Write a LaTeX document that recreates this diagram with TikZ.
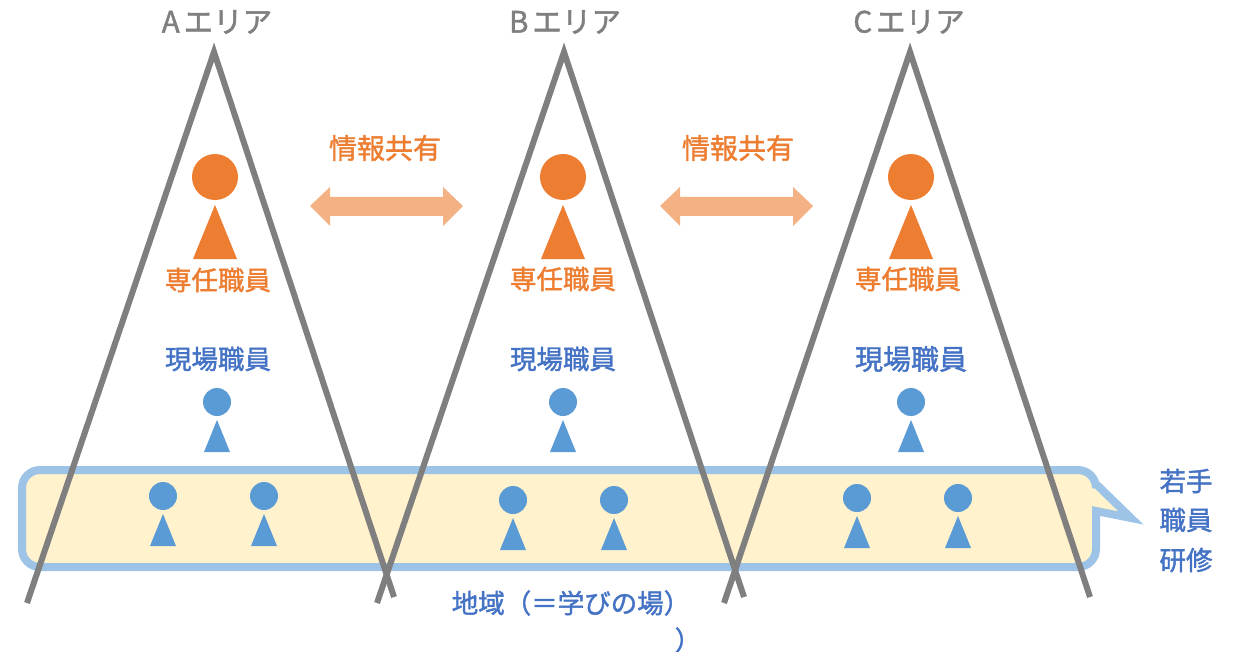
\documentclass[tikz,border=0pt]{standalone}
\usepackage{fontspec}
\setmainfont{Noto Sans CJK JP}[FakeBold=1.5]
\definecolor{areagray}{HTML}{7F7F7F}
\definecolor{lead}{HTML}{ED7D31}
\definecolor{leadarrow}{HTML}{F4B183}
\definecolor{staff}{HTML}{5B9BD5}
\definecolor{staffText}{HTML}{4472C4}
\definecolor{bandfill}{HTML}{FFF2CC}
\definecolor{bandline}{HTML}{9DC3E6}
\tikzset{
  x=1pt,y=-1pt,
  mountain/.style={draw=areagray,line width=6pt,miter limit=10},
  lbl/.style={inner sep=0pt,font=\fontsize{26.5}{26}\selectfont},
  leadlbl/.style={lbl,text=lead},
  stafflbl/.style={lbl,text=staffText},
  arealbl/.style={lbl,text=areagray,font=\fontsize{29.5}{29}\selectfont},
  exchange/.style={fill=leadarrow},
  pics/bighead/.style={code={
    \fill[lead] (0,0) circle[radius=23pt];
    \fill[lead] (0,28) -- (22,82) -- (-22,82) -- cycle;
  }},
  pics/smallhead/.style={code={
    \fill[staff] (0,0) circle[radius=14pt];
    \fill[staff] (0,18) -- (13,50) -- (-13,50) -- cycle;
  }},
}
\begin{document}
\begin{tikzpicture}
\useasboundingbox (0,0) rectangle (1238,652);
% band
\draw[draw=bandline,fill=bandfill,line width=8pt,miter limit=12]
  (40,470) -- (1078,470) arc[start angle=90,end angle=0,radius=18pt]
  -- (1096,484) -- (1131,518) -- (1096,511) -- (1096,549)
  arc[start angle=0,end angle=-90,radius=18pt] -- (40,567)
  arc[start angle=-90,end angle=-180,radius=18pt] -- (22,488)
  arc[start angle=180,end angle=90,radius=18pt] -- cycle;
% people
\pic at (215,177) {bighead};
\pic at (563,177) {bighead};
\pic at (911,177) {bighead};
\pic at (217,402) {smallhead};
\pic at (563,402) {smallhead};
\pic at (911,402) {smallhead};
\pic at (163,496) {smallhead};
\pic at (264,496) {smallhead};
\pic at (513,500) {smallhead};
\pic at (614,500) {smallhead};
\pic at (857,498) {smallhead};
\pic at (958,498) {smallhead};
% mountains
\coordinate (aL) at (27,603); \coordinate (aT) at (214,52); \coordinate (aR) at (394,597);
\coordinate (bL) at (377,603); \coordinate (bT) at (564,52); \coordinate (bR) at (744,597);
\coordinate (cL) at (724,603); \coordinate (cT) at (910,52); \coordinate (cR) at (1090,597);
\draw[mountain] (aL) -- (aT) -- (aR);
\draw[mountain] (bL) -- (bT) -- (bR);
\draw[mountain] (cL) -- (cT) -- (cR);
% exchange arrows
\fill[exchange] (310,206) -- (330,187) -- (330,197) -- (443,197) -- (443,187) -- (463,206) -- (443,226) -- (443,216) -- (330,216) -- (330,226) -- cycle;
\fill[exchange] (660,206) -- (680,187) -- (680,197) -- (793,197) -- (793,187) -- (813,206) -- (793,226) -- (793,216) -- (680,216) -- (680,226) -- cycle;
% labels
\node[arealbl] (ta) at (217,22) {A\hspace{4pt}エリア};
\node[arealbl] (tb) at (565,22) {B\hspace{4pt}エリア};
\node[arealbl] (tc) at (909,22) {C\hspace{4pt}エリア};
\node[leadlbl,font=\fontsize{28}{28}\selectfont] (s1) at (385,148) {情報共有};
\node[leadlbl,font=\fontsize{28}{28}\selectfont] (s2) at (738,148) {情報共有};
\node[leadlbl] (l1) at (218,280) {専任職員};
\node[leadlbl] (l2) at (563,279) {専任職員};
\node[leadlbl] (l3) at (908,279) {専任職員};
\node[stafflbl] (g1) at (218,359) {現場職員};
\node[stafflbl] (g2) at (563,359) {現場職員};
\node[stafflbl,font=\fontsize{28}{28}\selectfont] (g3) at (911,359) {現場職員};
\node[stafflbl] (w1) at (1186,481) {若手};
\node[stafflbl] (w2) at (1186,520) {職員};
\node[stafflbl] (w3) at (1186,560) {研修};
\node[stafflbl,font=\fontsize{26.5}{26}\selectfont] (r1) at (571,603) {地域（＝学びの場）};
\node[stafflbl,font=\fontsize{26.5}{26}\selectfont] (r2) at (688,640) {）};
\end{tikzpicture}
\end{document}
